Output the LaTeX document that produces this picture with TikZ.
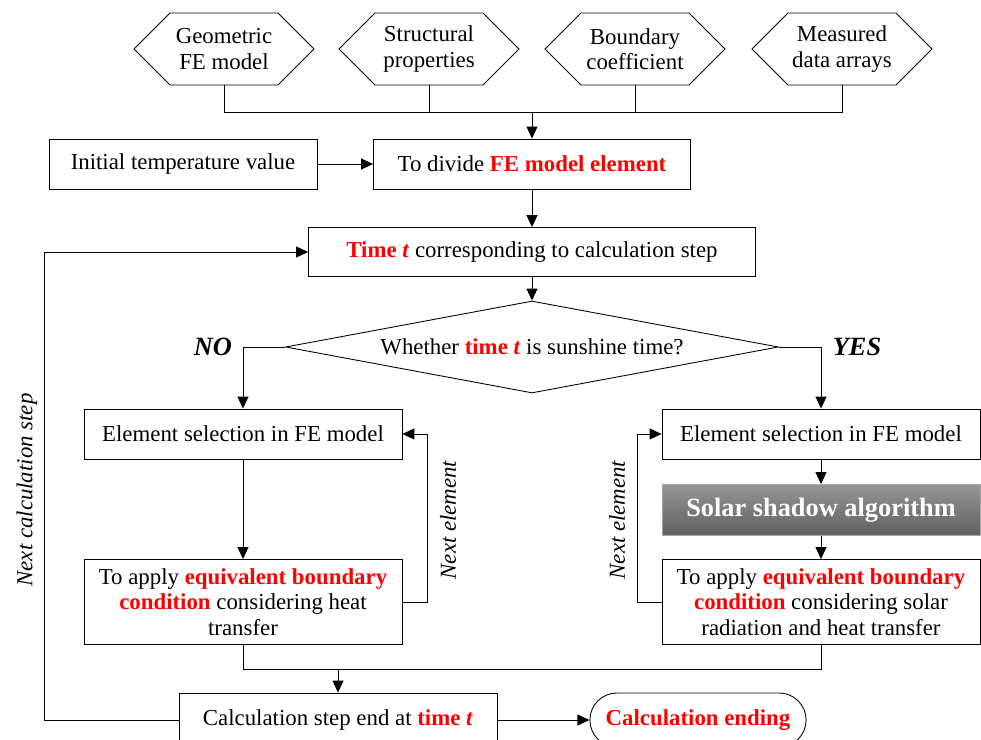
\documentclass[tikz,border=0pt]{standalone}
\usepackage{fontspec}
\setmainfont{Liberation Serif}
\usetikzlibrary{arrows.meta,shapes.symbols,shapes.geometric,shapes.misc}
\definecolor{hilite}{rgb}{1,0,0}
\definecolor{shadetop}{RGB}{150,150,150}
\definecolor{shadebot}{RGB}{95,95,95}
\newcommand{\hl}[1]{\textcolor{hilite}{\textbf{#1}}}
\tikzset{
  stepbox/.style={draw, align=center, inner sep=2pt, minimum width=6.36cm, minimum height=1cm},
  inbox/.style={draw, signal, signal to=west and east, signal pointer angle=90,
    minimum width=3.6cm, minimum height=1.44cm, inner sep=1pt, align=center},
  askbox/.style={draw, diamond, aspect=5.36, minimum width=9.86cm, minimum height=1.84cm, inner sep=0pt},
  endbox/.style={draw, rounded rectangle, minimum width=4.56cm, minimum height=1.08cm},
  shadebox/.style={stepbox, draw=gray!70, top color=shadetop, bottom color=shadebot, text=white,
    font=\fontsize{15}{17}\selectfont\bfseries},
  sidelabel/.style={rotate=90, font=\fontsize{13}{15}\selectfont\itshape},
  answer/.style={font=\fontsize{15}{17}\selectfont\bfseries\itshape}
}
\begin{document}
\begin{tikzpicture}[x=0.02cm, y=-0.02cm, line width=0.5pt,
    >={Triangle[length=2.4mm,width=2.2mm]}, font=\fontsize{13}{14.5}\selectfont]
	\useasboundingbox (0,0) rectangle (981,740);
	% input data
	\node (geo) at (224,49) [inbox] {Geometric\\FE model};
	\node (struct) at (429,49) [inbox] {Structural\\properties};
	\node (bound) at (635,49) [inbox] {Boundary\\coefficient};
	\node (meas) at (842,49) [inbox] {Measured\\data arrays};
	\coordinate (bus) at (532,112);
	% main chain
	\node (init) at (183,164) [stepbox, minimum width=5.36cm] {Initial temperature value};
	\node (divide) at (532,164) [stepbox, minimum width=6.34cm] {To divide \hl{FE model element}};
	\node (time) at (532,252) [stepbox, minimum width=8.94cm, minimum height=0.98cm] {\hl{Time \textit{t}} corresponding to calculation step};
	\node (whether) at (532,347) [askbox] {Whether \hl{time \textit{t}} is sunshine time?};
	\node (no) at (213,347) [answer] {NO};
	\node (yes) at (857,347) [answer] {YES};
	% left branch
	\node (lsel) at (243,434) [stepbox] {Element selection in FE model};
	\node (lapply) at (243,602) [stepbox, minimum height=1.7cm] {To apply \hl{equivalent boundary}\\ \hl{condition} considering heat\\ transfer};
	% right branch
	\node (rsel) at (821,434) [stepbox] {Element selection in FE model};
	\node (solar) at (821,510) [shadebox, minimum height=1.02cm] {Solar shadow algorithm};
	\node (rapply) at (821,602) [stepbox, minimum height=1.7cm] {To apply \hl{equivalent boundary}\\ \hl{condition} considering solar\\ radiation and heat transfer};
	% end
	\node (calc) at (338,720) [stepbox, minimum height=1.08cm] {Calculation step end at \hl{time \textit{t}}};
	\node (ending) at (698,720) [endbox] {\hl{Calculation ending}};
	% labels on loops
	\node (lnext) at (448,520) [sidelabel] {Next element};
	\node (rnext) at (617,520) [sidelabel] {Next element};
	\node (cnext) at (27,490) [sidelabel] {Next calculation step};

	\draw
	(geo.south) |- (bus)
	(struct.south) |- (bus)
	(bound.south) |- (bus)
	(meas.south) |- (bus)
	(bus) edge[->] (divide.north)
	(init) edge[->] (divide)
	(divide) edge[->] (time)
	(time) edge[->] (whether)
	(lsel) edge[->] (lapply)
	(rsel) edge[->] (solar)
	(solar) edge[->] (rapply)
	(calc) edge[->] (ending)
	;
	\draw[->] (whether.west) -| (lsel.north);
	\draw[->] (whether.east) -| (rsel.north);
	\draw[->] (lapply.east) -- ++(25,0) |- (lsel.east);
	\draw[->] (rapply.west) -- ++(-24,0) |- (rsel.west);
	\draw (lapply.south) -- ++(0,25) -| (rapply.south);
	\draw[->] (calc.north) ++(0,-23) -- (calc.north);
	\draw[->] (calc.west) -- ++(-134,0) |- (time.west);
\end{tikzpicture}
\end{document}
